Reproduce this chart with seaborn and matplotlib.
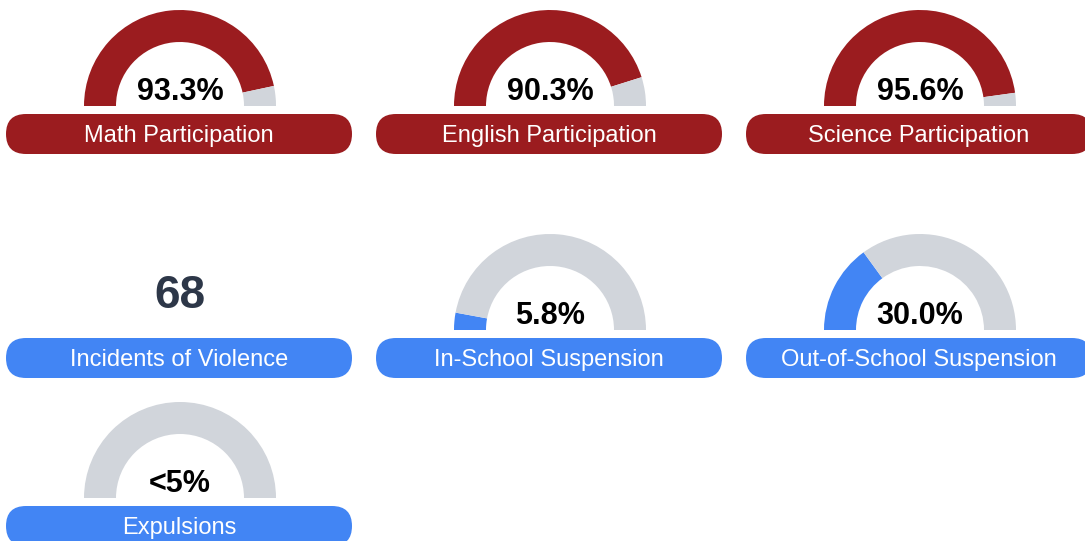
import numpy as np
import pandas as pd
import seaborn as sns
from matplotlib import pyplot as plt
from matplotlib.patches import Wedge, FancyBboxPatch

# =============================================================================
# data
# =============================================================================
labels = ['Math Participation', 'English Participation', 'Science Participation',
          'Incidents of Violence', 'In-School Suspension', 'Out-of-School Suspension',
          'Expulsions']
values = [93.3, 90.3, 95.6, None, 5.8, 30.0, 0.0]
display = ['93.3%', '90.3%', '95.6%', '68', '5.8%', '30.0%', '<5%']
groups = ['academic', 'academic', 'academic', 'discipline', 'discipline',
          'discipline', 'discipline']

red = '#9b1c1f'
blue = '#4285f4'
gray = '#d1d5db'
colors = {'academic': red, 'discipline': blue}

sns.set_theme(style='white')
plt.rcParams['font.family'] = ['Liberation Sans', 'DejaVu Sans']

fig = plt.figure(figsize=(10.85, 5.41), dpi=100)
ax = fig.add_axes([0, 0, 1, 1])
ax.set_xlim(0, 1085)
ax.set_ylim(541, 0)
ax.axis('off')

col_x = [180, 550, 920]
row_base = [106, 330, 498]
r_out, width = 96, 32

for i, (lab, v, txt, g) in enumerate(zip(labels, values, display, groups)):
    cx = col_x[i % 3]
    by = row_base[i // 3]
    c = colors[g]
    if v is not None:
        # gauge: filled part from left, remainder gray (y axis inverted)
        ang = 180 - 180 * v / 100
        split = 360 - ang if v > 0 else 180
        if v > 0:
            ax.add_patch(Wedge((cx, by), r_out, 180, split,
                               width=width, color=c, lw=0))
        ax.add_patch(Wedge((cx, by), r_out, split, 360,
                           width=width, color=gray, lw=0))
        ax.text(cx, by - 14, txt, ha='center', va='center', fontsize=22,
                fontweight='bold', color='black')
    else:
        ax.text(cx, by - 34, txt, ha='center', va='center', fontsize=33,
                fontweight='bold', color='#2d3748')
    # pill label
    ax.add_patch(FancyBboxPatch((cx - 174, by + 8), 346, 40,
                                boxstyle='round,pad=0,rounding_size=20',
                                color=c, lw=0))
    ax.text(cx - 1, by + 30, lab, ha='center', va='center', fontsize=17,
            color='white')

fig.savefig('out.png', dpi=100)
